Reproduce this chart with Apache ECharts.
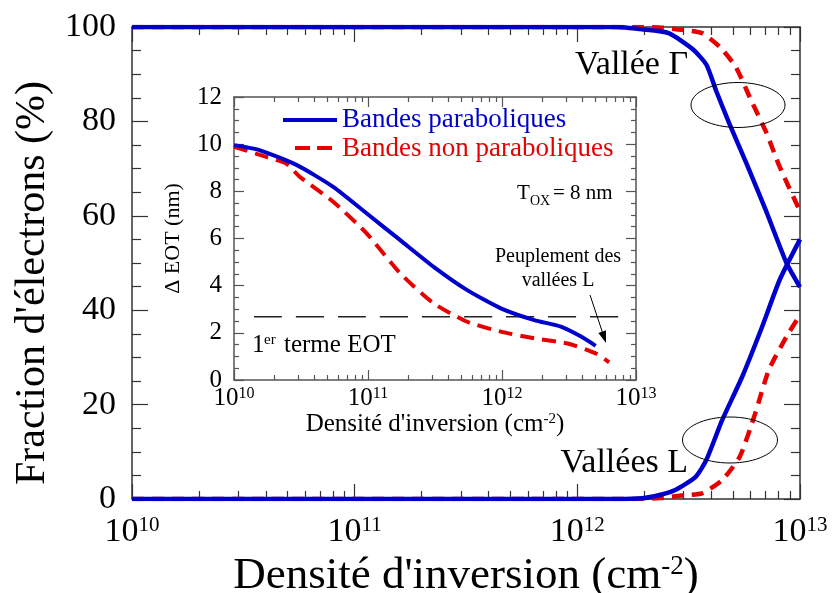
<!DOCTYPE html>
<html><head><meta charset="utf-8">
<script src="https://cdn.jsdelivr.net/npm/echarts@6/dist/echarts.min.js"></script>
<style>html,body{margin:0;padding:0;background:#fff}#c{width:832px;height:593px}</style>
</head><body><div id="c"></div>
<script>
// ---- Main chart data: fraction of electrons (%) vs inversion density (cm^-2)
const mainGammaParabX = [1e10, 1.5e12, 1.95e12, 2.57e12, 3.3e12, 3.8e12, 4.2e12, 4.8e12, 5.76e12, 7.1e12, 8.7e12, 1e13];
const mainGammaParabY = [100, 100, 99.5, 98.7, 95.3, 92, 86.5, 79.7, 71, 60.6, 50, 44.9];
const mainGammaNonParabX = [1e10, 1.8e12, 2.34e12, 2.95e12, 3.63e12, 4.36e12, 5.14e12, 6.03e12, 7.08e12, 8.1e12, 1e13];
const mainGammaNonParabY = [100, 100, 99.9, 99.4, 98.7, 95.8, 91.6, 84.5, 77.5, 70.4, 61];
const mainLParabX = [1e10, 1.5e12, 1.95e12, 2.34e12, 2.75e12, 3.4e12, 3.8e12, 4.47e12, 5.5e12, 6.76e12, 8.1e12, 1e13];
const mainLParabY = [0, 0, 0.15, 0.85, 1.9, 4.7, 8.3, 16.7, 25.9, 36.5, 46.4, 55];
const mainLNonParabX = [1e10, 1.8e12, 2.34e12, 3.1e12, 3.63e12, 4.47e12, 5.37e12, 6.3e12, 7.24e12, 8.7e12, 1e13];
const mainLNonParabY = [0, 0, 0.2, 0.85, 1.2, 4, 9, 18.2, 27.3, 34.4, 39];

// ---- Inset data: Delta EOT (nm) vs inversion density
const insetParabX = [1e10, 1.55e10, 2.95e10, 5.5e10, 9.8e10, 1.74e11, 3.09e11, 5.5e11, 9.8e11, 1.74e12, 2.75e12, 3.89e12, 5.0e12];
const insetParabY = [9.96, 9.75, 9.11, 8.19, 7.06, 5.93, 4.8, 3.81, 3.04, 2.54, 2.26, 1.84, 1.45];
const insetNonParabX = [1e10, 1.74e10, 2.45e10, 3.09e10, 5.5e10, 9.8e10, 1.74e11, 3.09e11, 5.5e11, 9.8e11, 1.74e12, 3.09e12, 5.0e12, 6.3e12];
const insetNonParabY = [9.89, 9.46, 9.18, 8.62, 7.56, 6.21, 4.52, 3.25, 2.47, 2.05, 1.77, 1.55, 1.13, 0.75];
const eotFirstTermX = [1.41e10, 8.1e12];
const eotFirstTermY = [2.68, 2.68];

// ---- Axis ticks
const xMajorTicks = [1e10, 1e11, 1e12, 1e13];
const xMinorTicks = [];
[1e10, 1e11, 1e12].forEach(d => { for (let k = 2; k <= 9; k++) xMinorTicks.push(k * d); });
const mainYTicks = [0, 20, 40, 60, 80, 100];
const insetYTicks = [0, 2, 4, 6, 8, 10, 12];

const seriesNames = ['Bandes paraboliques', 'Bandes non paraboliques'];
const BLUE = '#0000cd', RED = '#e60000';
const FONT = 'Liberation Serif';

const pairs = (xs, ys) => xs.map((x, i) => [x, ys[i]]);
const expLabel = v => '{b|10}{s|' + Math.round(Math.log10(v)) + '}';

function xAxes(grid, fontSize, supSize, margin, majLen, minLen, axColor) {
  const common = { type: 'log', logBase: 10, min: 1e10, max: 1e13, gridIndex: grid, splitLine: { show: false } };
  const lineStyle = { color: axColor, width: 1.5 };
  return [
    Object.assign({}, common, {
      position: 'bottom',
      axisLine: { show: true, onZero: false, lineStyle },
      axisTick: { show: true, inside: true, length: majLen, customValues: xMajorTicks, lineStyle: { color: axColor, width: 1.2 } },
      axisLabel: { show: true, customValues: xMajorTicks, margin: margin, formatter: expLabel,
        rich: { b: { fontFamily: FONT, fontSize: fontSize, lineHeight: fontSize, color: '#000' },
                s: { fontFamily: FONT, fontSize: supSize, lineHeight: supSize, verticalAlign: 'top', color: '#000' } } }
    }),
    Object.assign({}, common, {
      position: 'bottom', axisLine: { show: false, onZero: false },
      axisTick: { show: true, inside: true, length: minLen, customValues: xMinorTicks, lineStyle: { color: axColor, width: 1.2 } },
      axisLabel: { show: false }
    }),
    Object.assign({}, common, {
      position: 'top', axisLine: { show: true, onZero: false, lineStyle },
      axisTick: { show: true, inside: true, length: majLen, customValues: xMajorTicks, lineStyle: { color: axColor, width: 1.2 } },
      axisLabel: { show: false }
    }),
    Object.assign({}, common, {
      position: 'top', axisLine: { show: false, onZero: false },
      axisTick: { show: true, inside: true, length: minLen, customValues: xMinorTicks, lineStyle: { color: axColor, width: 1.2 } },
      axisLabel: { show: false }
    })
  ];
}

function yAxes(grid, max, interval, fontSize, margin, majLen, minLen, axColor, name, nameSize, nameGap) {
  const common = { type: 'value', min: 0, max: max, interval: interval, gridIndex: grid, splitLine: { show: false },
    axisLine: { show: true, onZero: false, lineStyle: { color: axColor, width: 1.5 } },
    axisTick: { show: true, inside: true, length: majLen, lineStyle: { color: axColor, width: 1.2 } },
    minorTick: { show: true, splitNumber: 4, length: minLen, lineStyle: { color: axColor, width: 1.2 } } };
  const left = Object.assign({}, common, { position: 'left',
      axisLabel: { show: true, margin: margin, fontFamily: FONT, fontSize: fontSize, color: '#000' } });
  if (name) {
    left.name = name; left.nameLocation = 'middle'; left.nameRotate = 90; left.nameGap = nameGap;
    left.nameTextStyle = { fontFamily: FONT, fontSize: nameSize, color: '#000' };
  }
  return [left, Object.assign({}, common, { position: 'right', axisLabel: { show: false } })];
}

const mx = xAxes(0, 34, 21, 16, 15, 8, '#333');
mx[0].name = "Densité d'inversion (cm{s|-2})";
mx[0].nameLocation = 'middle';
mx[0].nameGap = 43;
mx[0].nameTextStyle = { fontFamily: FONT, fontSize: 45, color: '#000', lineHeight: 45,
  rich: { s: { fontFamily: FONT, fontSize: 27, lineHeight: 27, verticalAlign: 'top', color: '#000' } } };
const ix = xAxes(1, 25, 16, 6, 10, 5, '#555');
ix[0].name = "Densité d'inversion (cm{s|-2})";
ix[0].nameLocation = 'middle';
ix[0].nameGap = 28;
ix[0].nameTextStyle = { fontFamily: FONT, fontSize: 25, color: '#000', lineHeight: 25,
  rich: { s: { fontFamily: FONT, fontSize: 15, lineHeight: 15, verticalAlign: 'top', color: '#000' } } };

const my = yAxes(0, 100, 20, 34, 16, 16, 9, '#333', null, 0, 0);
const iy = yAxes(1, 12, 2, 25, 12, 10, 5, '#555', 'Δ EOT (nm)', 22, 50);

const lineSeries = (name, data, xi, yi, color, dashed, width, z) => ({
  type: 'line', name, data, xAxisIndex: xi, yAxisIndex: yi, showSymbol: false, symbol: 'none',
  smooth: 0.2,
  lineStyle: { color, width, type: dashed ? dashed : 'solid', cap: 'butt' }, itemStyle: { color }, z: z || 2, silent: true
});

const legendFont = '27px "Liberation Serif"';
const option = {
  animation: false,
  backgroundColor: '#fff',
  textStyle: { fontFamily: FONT },
  grid: [
    { left: 132, right: 32, top: 27, bottom: 94, containLabel: false, outerBoundsMode: 'none' },
    { left: 234, right: 196, top: 97, bottom: 213, containLabel: false, outerBoundsMode: 'none' }
  ],
  xAxis: mx.concat(ix),
  yAxis: my.concat(iy),
  series: [
    lineSeries(seriesNames[1], pairs(mainGammaNonParabX, mainGammaNonParabY), 0, 0, RED, [12, 8], 4.5, 2),
    lineSeries(seriesNames[1], pairs(mainLNonParabX, mainLNonParabY), 0, 0, RED, [12, 8], 4.5, 2),
    lineSeries(seriesNames[0], pairs(mainGammaParabX, mainGammaParabY), 0, 0, BLUE, null, 4.5, 3),
    lineSeries(seriesNames[0], pairs(mainLParabX, mainLParabY), 0, 0, BLUE, null, 4.5, 3),
    lineSeries('1er terme EOT', pairs(eotFirstTermX, eotFirstTermY), 4, 2, '#222', [28, 14], 1.5, 2),
    lineSeries(seriesNames[1], pairs(insetNonParabX, insetNonParabY), 4, 2, RED, [14, 8], 4, 3),
    lineSeries(seriesNames[0], pairs(insetParabX, insetParabY), 4, 2, BLUE, null, 4, 4)
  ],
  graphic: [
    // main y-axis title
    { type: 'text', x: 33, y: 283, rotation: Math.PI / 2,
      style: { text: "Fraction d'électrons (%)", x: 0, y: 0, font: '42px "Liberation Serif"', fill: '#000', textAlign: 'center', textVerticalAlign: 'middle' }, z: 10 },
    // legend of inset
    { type: 'line', shape: { x1: 283, y1: 120, x2: 337, y2: 120 }, style: { stroke: BLUE, lineWidth: 4 }, z: 10 },
    { type: 'line', shape: { x1: 295, y1: 148, x2: 337, y2: 148 }, style: { stroke: RED, lineWidth: 4, lineDash: [15, 7] }, z: 10 },
    { type: 'text', style: { text: seriesNames[0], x: 342, y: 120, font: legendFont, fill: BLUE, textAlign: 'left', textVerticalAlign: 'middle' }, z: 10 },
    { type: 'text', style: { text: seriesNames[1], x: 342, y: 149, font: legendFont, fill: RED, textAlign: 'left', textVerticalAlign: 'middle' }, z: 10 },
    // annotations
    { type: 'ellipse', shape: { cx: 738, cy: 105, rx: 47, ry: 22.5 }, style: { fill: 'none', stroke: '#000', lineWidth: 1 }, z: 10 },
    { type: 'ellipse', shape: { cx: 730, cy: 440, rx: 47.5, ry: 23 }, style: { fill: 'none', stroke: '#000', lineWidth: 1 }, z: 10 },
    { type: 'text', style: { text: 'Vallée Γ', x: 575, y: 65, font: '34px "Liberation Serif"', fill: '#000', textAlign: 'left', textVerticalAlign: 'middle' }, z: 10 },
    { type: 'text', style: { text: 'Vallées L', x: 688, y: 463, font: '34px "Liberation Serif"', fill: '#000', textAlign: 'right', textVerticalAlign: 'middle' }, z: 10 },
    { type: 'text', style: { text: 'T', x: 517, y: 193, font: '21px "Liberation Serif"', fill: '#000', textAlign: 'left', textVerticalAlign: 'middle' }, z: 10 },
    { type: 'text', style: { text: 'OX', x: 530, y: 201, font: '14px "Liberation Serif"', fill: '#000', textAlign: 'left', textVerticalAlign: 'middle' }, z: 10 },
    { type: 'text', style: { text: '= 8 nm', x: 553, y: 193, font: '21px "Liberation Serif"', fill: '#000', textAlign: 'left', textVerticalAlign: 'middle' }, z: 10 },
    { type: 'text', style: { text: 'Peuplement des', x: 558, y: 257, font: '20px "Liberation Serif"', fill: '#000', textAlign: 'center', textVerticalAlign: 'middle' }, z: 10 },
    { type: 'text', style: { text: 'vallées L', x: 558, y: 281, font: '20px "Liberation Serif"', fill: '#000', textAlign: 'center', textVerticalAlign: 'middle' }, z: 10 },
    { type: 'text', style: { text: '1', x: 252, y: 345, font: '25px "Liberation Serif"', fill: '#000', textAlign: 'left', textVerticalAlign: 'middle' }, z: 10 },
    { type: 'text', style: { text: 'er', x: 264, y: 340, font: '15px "Liberation Serif"', fill: '#000', textAlign: 'left', textVerticalAlign: 'middle' }, z: 10 },
    { type: 'text', style: { text: 'terme EOT', x: 284, y: 345, font: '25px "Liberation Serif"', fill: '#000', textAlign: 'left', textVerticalAlign: 'middle' }, z: 10 },
    { type: 'line', shape: { x1: 590, y1: 295, x2: 603, y2: 334 }, style: { stroke: '#000', lineWidth: 1 }, z: 10 },
    { type: 'polygon', shape: { points: [[606, 343], [598.4, 332.9], [606, 330.3]] }, style: { fill: '#000' }, z: 10 }
  ]
};

const chart = echarts.init(document.getElementById('c'), null, { renderer: 'canvas' });
chart.setOption(option);
</script>
</body></html>
